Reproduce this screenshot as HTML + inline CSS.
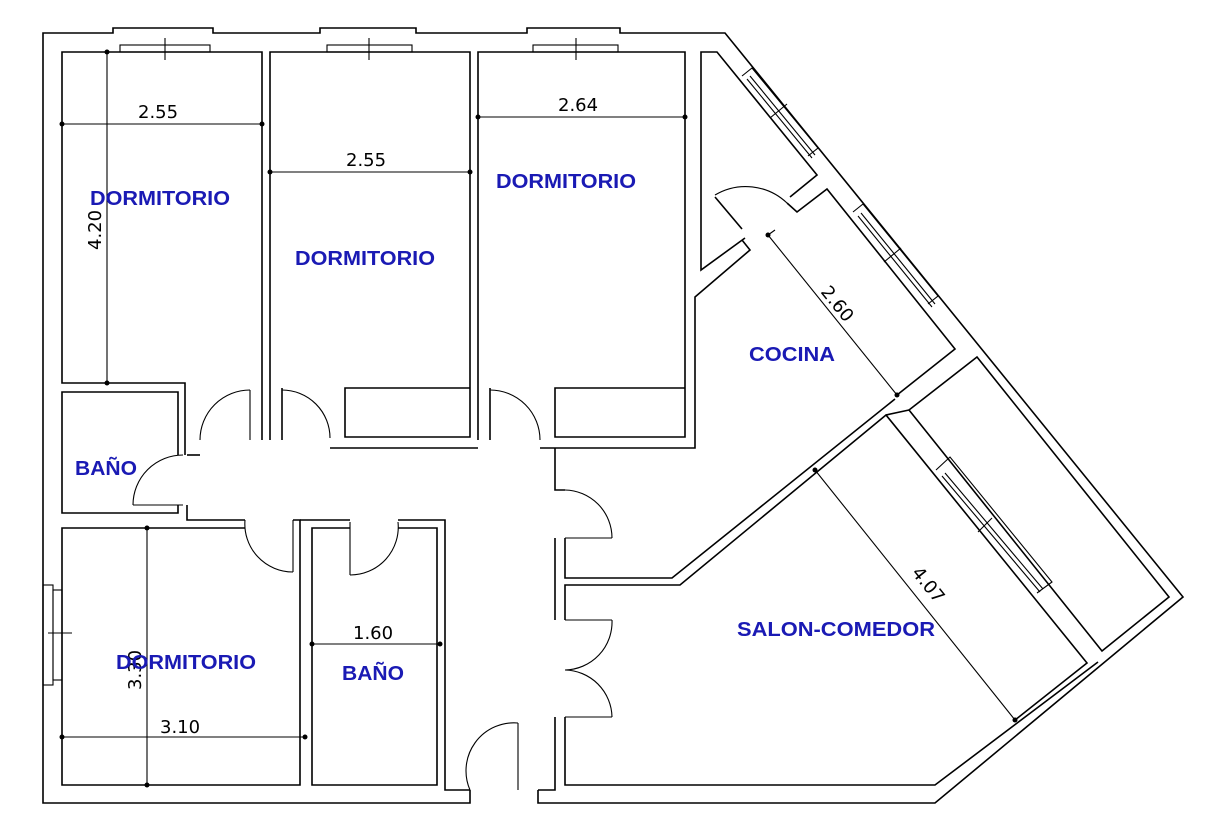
<!DOCTYPE html>
<html><head><meta charset="utf-8"><style>
html,body{margin:0;padding:0;background:#fff;}
svg{display:block;}
.w{fill:none;stroke:#000;stroke-width:1.6;}
.t{fill:none;stroke:#000;stroke-width:1.1;}
.d{font-family:"DejaVu Sans","Liberation Sans",sans-serif;font-size:18px;fill:#000;}
.l{font-family:"Liberation Sans",sans-serif;font-weight:bold;font-size:20px;fill:#1a1ab4;}
</style></head><body>
<svg width="1206" height="825" viewBox="0 0 1206 825" xmlns="http://www.w3.org/2000/svg">
<!-- outer wall -->
<polyline class="w" points="470,790 470,803 43,803 43,33 113,33 113,28 213,28 213,33 320,33 320,28 416,28 416,33 527,33 527,28 620,28 620,33 725,33 1183,597 935,803 538,803 538,790"/>
<!-- windows top -->
<g class="t">
<rect x="120" y="45" width="90" height="7"/><line x1="165" y1="38" x2="165" y2="60"/>
<rect x="327" y="45" width="85" height="7"/><line x1="369" y1="38" x2="369" y2="60"/>
<rect x="533" y="45" width="85" height="7"/><line x1="576" y1="38" x2="576" y2="60"/>
<rect x="43" y="585" width="10" height="100"/><rect x="53" y="590" width="9" height="90"/><line x1="48" y1="633" x2="72" y2="633"/>
</g>
<!-- Dorm1 -->
<polyline class="w" points="185,455 185,383 62,383 62,52 262,52 262,440"/>
<!-- Dorm2 -->
<polyline class="w" points="270,440 270,52 470,52 470,437 345,437 345,388 470,388"/>
<polyline class="w" points="282,388 282,440"/>
<!-- Dorm3 -->
<polyline class="w" points="478,440 478,52 685,52 685,437 555,437 555,388 685,388"/>
<polyline class="w" points="490,388 490,440"/>
<!-- corridor top wall lines -->
<polyline class="w" points="187,455 200,455"/>
<polyline class="w" points="330,448 478,448"/>
<polyline class="w" points="540,448 695,448 695,297 750,250 742,240"/>
<polyline class="w" points="555,448 555,490 565,490"/>
<!-- Baño1 -->
<polyline class="w" points="178,455 178,392 62,392 62,513 178,513 178,505"/>
<polyline class="w" points="187,505 187,520 245,520"/>
<!-- Dorm4 -->
<polyline class="w" points="245,528 62,528 62,785 300,785 300,520 293,520"/>
<!-- Baño2 -->
<polyline class="w" points="350,528 312,528 312,785 437,785 437,528 398,528"/>
<polyline class="w" points="300,520 350,520"/>
<polyline class="w" points="398,520 445,520 445,790 470,790"/>
<!-- right hall wall -->
<polyline class="w" points="565,538 565,578 672,578 895,399"/>
<polyline class="w" points="565,620 565,585 680,585 886,415 1087,663 1015,720"/>
<polyline class="w" points="555,538 555,620"/>
<polyline class="w" points="555,717 555,790 538,790"/>
<polyline class="w" points="565,717 565,785 935,785 1098,662"/>
<!-- pantry & kitchen -->
<polyline class="w" points="745,238 701,270 701,52 717,52 817,175 790,197"/>
<polyline class="w" points="715,197 742,229"/>
<polyline class="w" points="787,203 797,212 827,189 955,349 897,395"/>
<!-- side windows -->
<g class="t">
<polyline points="742,76 752,68 818,148 808,156"/>
<line x1="747" y1="79" x2="812" y2="158"/><line x1="750" y1="76" x2="815" y2="155"/>
<line x1="770" y1="118" x2="787" y2="104"/>
<polyline points="853,212 863,204 938,296 928,304"/>
<line x1="858" y1="216" x2="932" y2="307"/><line x1="861" y1="213" x2="935" y2="304"/>
<line x1="884" y1="262" x2="901" y2="248"/>
<polyline points="936,470 950,457 1052,582 1037,593"/>
<line x1="942" y1="476" x2="1040" y2="592"/><line x1="945" y1="473" x2="1043" y2="589"/>
<line x1="978" y1="532" x2="992" y2="518"/>
</g>
<!-- terrace -->
<polygon class="w" points="977,357 1169,597 1102,651 909,410"/>
<polyline class="w" points="909,410 886,415"/>
<!-- doors -->
<g class="t">
<path d="M133,505 A50,50 0 0 1 183,455"/><line x1="133" y1="505" x2="183" y2="505"/>
<path d="M200,440 A50,50 0 0 1 250,390"/><line x1="250" y1="390" x2="250" y2="440"/>
<path d="M282,390 A48,48 0 0 1 330,438"/>
<path d="M490,390 A50,50 0 0 1 540,440"/>
<path d="M565,490 A48,48 0 0 1 612,538"/><line x1="565" y1="538" x2="612" y2="538"/>
<path d="M612,620 A48,48 0 0 1 565,670 A48,48 0 0 1 612,717"/><line x1="565" y1="620" x2="612" y2="620"/><line x1="565" y1="717" x2="612" y2="717"/>
<path d="M470,790 A48,48 0 0 1 518,723"/><line x1="518" y1="723" x2="518" y2="790"/>
<path d="M245,520 A48,48 0 0 0 293,572"/><line x1="293" y1="520" x2="293" y2="572"/>
<path d="M350,575 A48,48 0 0 0 398,522"/><line x1="350" y1="522" x2="350" y2="575"/>
<path d="M715,195 A60,60 0 0 1 787,203"/>
</g>
<!-- dimension lines -->
<g class="t">
<line x1="62" y1="124" x2="262" y2="124"/><line x1="107" y1="52" x2="107" y2="383"/>
<line x1="270" y1="172" x2="470" y2="172"/>
<line x1="478" y1="117" x2="685" y2="117"/>
<line x1="62" y1="737" x2="305" y2="737"/><line x1="147" y1="528" x2="147" y2="785"/>
<line x1="312" y1="644" x2="440" y2="644"/>
<line x1="768" y1="235" x2="897" y2="395"/><line x1="768" y1="235" x2="775" y2="230"/>
<line x1="815" y1="470" x2="1015" y2="720"/>
</g>
<g fill="#000">
<circle cx="62" cy="124" r="2.5"/><circle cx="262" cy="124" r="2.5"/><circle cx="107" cy="52" r="2.5"/><circle cx="107" cy="383" r="2.5"/>
<circle cx="270" cy="172" r="2.5"/><circle cx="470" cy="172" r="2.5"/>
<circle cx="478" cy="117" r="2.5"/><circle cx="685" cy="117" r="2.5"/>
<circle cx="62" cy="737" r="2.5"/><circle cx="305" cy="737" r="2.5"/><circle cx="147" cy="528" r="2.5"/><circle cx="147" cy="785" r="2.5"/>
<circle cx="312" cy="644" r="2.5"/><circle cx="440" cy="644" r="2.5"/>
<circle cx="768" cy="235" r="2.5"/><circle cx="897" cy="395" r="2.5"/>
<circle cx="815" cy="470" r="2.5"/><circle cx="1015" cy="720" r="2.5"/>
</g>
<text class="d" x="138" y="118">2.55</text>
<text class="d" x="346" y="166">2.55</text>
<text class="d" x="558" y="111">2.64</text>
<text class="d" x="160" y="733">3.10</text>
<text class="d" x="353" y="639">1.60</text>
<text class="d" transform="translate(101,250) rotate(-90)">4.20</text>
<text class="d" transform="translate(141,690) rotate(-90)">3.30</text>
<text class="d" transform="translate(820,292) rotate(51)">2.60</text>
<text class="d" transform="translate(911,573) rotate(51)">4.07</text>
<text class="l" x="90" y="205" textLength="140" lengthAdjust="spacingAndGlyphs">DORMITORIO</text>
<text class="l" x="295" y="265" textLength="140" lengthAdjust="spacingAndGlyphs">DORMITORIO</text>
<text class="l" x="496" y="188" textLength="140" lengthAdjust="spacingAndGlyphs">DORMITORIO</text>
<text class="l" x="116" y="669" textLength="140" lengthAdjust="spacingAndGlyphs">DORMITORIO</text>
<text class="l" x="75" y="475" textLength="62" lengthAdjust="spacingAndGlyphs">BAÑO</text>
<text class="l" x="342" y="680" textLength="62" lengthAdjust="spacingAndGlyphs">BAÑO</text>
<text class="l" x="749" y="361" textLength="86" lengthAdjust="spacingAndGlyphs">COCINA</text>
<text class="l" x="737" y="636" textLength="198" lengthAdjust="spacingAndGlyphs">SALON-COMEDOR</text>
</svg>
</body></html>
